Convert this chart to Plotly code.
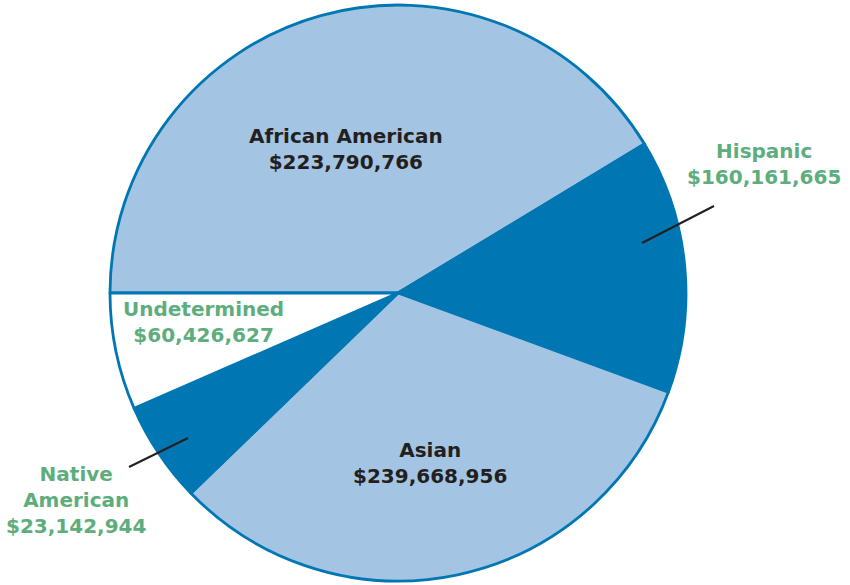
import plotly.graph_objects as go

# Data
categories = ["African American", "Hispanic", "Asian", "Native American", "Undetermined"]
amount_labels = ["$223,790,766", "$160,161,665", "$239,668,956", "$23,142,944", "$60,426,627"]
# slice shares (percent of circle) as drawn in the reference
slice_share = [41.35, 14.24, 32.18, 5.67, 6.56]

LIGHT = "#A3C5E3"
DARK = "#0077B3"
WHITE = "#FFFFFF"
GREEN = "#5DAD7D"
BLACK = "#231F20"
slice_colors = [LIGHT, DARK, LIGHT, DARK, WHITE]

W, H = 850, 585
cx, cy, r = 398, 293, 288


def px(x):
    return x / W


def py(y):
    return 1 - y / H


fig = go.Figure(go.Pie(
    labels=categories,
    values=slice_share,
    sort=False,
    direction="clockwise",
    rotation=270,
    marker=dict(colors=slice_colors, line=dict(color=DARK, width=2.8)),
    textinfo="none",
    hoverinfo="label",
    showlegend=False,
    domain=dict(x=[px(cx - r), px(cx + r)], y=[py(cy + r), py(cy - r)]),
))

# label blocks: (text, x, y, color)
label_blocks = [
    (categories[0] + "<br>" + amount_labels[0], 346, 148.5, BLACK),
    (categories[1] + "<br>" + amount_labels[1], 764, 164, GREEN),
    (categories[2] + "<br>" + amount_labels[2], 430, 463, BLACK),
    ("Native<br>American<br>" + amount_labels[3], 76, 499.5, GREEN),
    (categories[4] + "<br>" + amount_labels[4], 203.5, 322, GREEN),
]
annotations = []
for text, x, y, col in label_blocks:
    annotations.append(dict(
        text=text, x=px(x), y=py(y), xref="paper", yref="paper",
        xanchor="center", yanchor="middle", showarrow=False, align="center",
        font=dict(family="DejaVu Sans", size=20, color=col, weight="bold"),
    ))

shapes = [
    dict(type="line", xref="paper", yref="paper",
         x0=px(642), y0=py(243), x1=px(714), y1=py(206),
         line=dict(color=BLACK, width=2)),
    dict(type="line", xref="paper", yref="paper",
         x0=px(129), y0=py(467), x1=px(188), y1=py(438),
         line=dict(color=BLACK, width=2)),
]

fig.update_layout(
    width=W, height=H,
    margin=dict(l=0, r=0, t=0, b=0),
    paper_bgcolor="white",
    plot_bgcolor="white",
    annotations=annotations,
    shapes=shapes,
)

fig.write_html("out.html", config={"displayModeBar": False},
               post_script="document.body.style.margin='0';")
